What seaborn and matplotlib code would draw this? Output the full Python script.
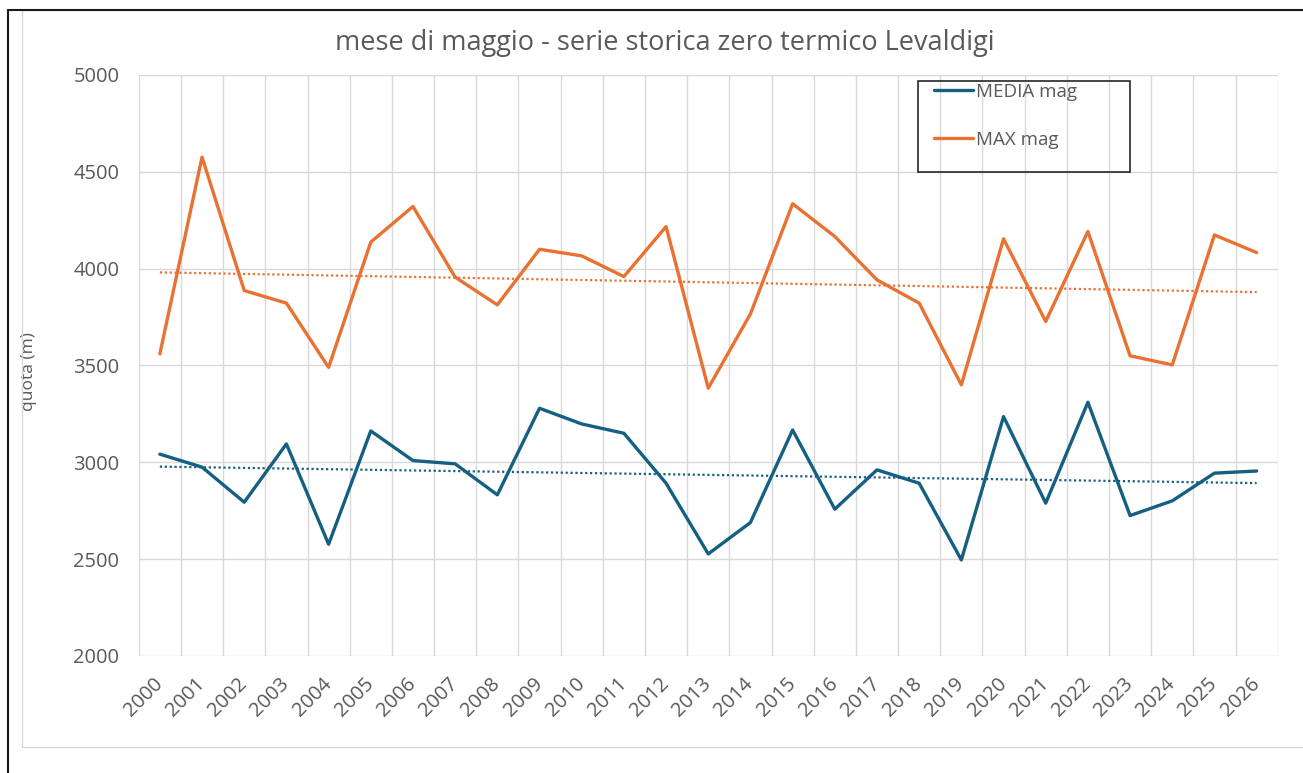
import matplotlib
matplotlib.use("Agg")
import matplotlib.pyplot as plt
import matplotlib.patches as patches
import numpy as np
import pandas as pd
import seaborn as sns

# data
anni = [str(a) for a in range(2000, 2027)]
media_mag = [3042, 2975, 2794, 3095, 2577, 3162, 3009, 2992, 2832, 3279,
             3198, 3150, 2892, 2527, 2689, 3167, 2758, 2961, 2892, 2496,
             3236, 2789, 3310, 2725, 2801, 2944, 2955]
max_mag = [3560, 4576, 3887, 3822, 3490, 4137, 4321, 3956, 3813, 4100,
           4066, 3959, 4217, 3383, 3766, 4335, 4166, 3942, 3822, 3400,
           4154, 3727, 4192, 3550, 3503, 4174, 4083]

blu = "#156082"
arancio = "#E97132"
grigio = "#595959"

sns.set_theme(style="white")
plt.rcParams["font.family"] = ["Open Sans", "DejaVu Sans"]

df = pd.DataFrame({
    "pos": np.arange(len(anni)),
    "MEDIA mag": media_mag,
    "MAX mag": max_mag,
})

W, H = 1303, 773
fig = plt.figure(figsize=(W / 100, H / 100), dpi=100)
ax = fig.add_axes([0.1065, 0.1514, 0.8741, 0.7516])

sns.lineplot(data=df, x="pos", y="MEDIA mag", color=blu, lw=2.4, ax=ax, label="MEDIA mag")
sns.lineplot(data=df, x="pos", y="MAX mag", color=arancio, lw=2.4, ax=ax, label="MAX mag")

# linear trend lines (dotted)
sns.regplot(data=df, x="pos", y="MEDIA mag", scatter=False, ci=None, ax=ax,
            line_kws=dict(color=blu, lw=1.6, ls=(0, (1, 1.2))))
sns.regplot(data=df, x="pos", y="MAX mag", scatter=False, ci=None, ax=ax,
            line_kws=dict(color=arancio, lw=1.6, ls=(0, (1, 1.2))))

ax.set_xlim(-0.5, len(anni) - 0.5)
ax.set_ylim(2000, 5000)
ax.set_yticks(range(2000, 5001, 500))
ax.set_xticks(df["pos"])
ax.set_xticklabels(anni, rotation=45, ha="right", va="center", rotation_mode="anchor")
ax.set_xticks(np.arange(-0.5, len(anni), 1), minor=True)

ax.grid(False)
ax.grid(axis="y", which="major", color="#D9D9D9", lw=1)
ax.grid(axis="x", which="minor", color="#D9D9D9", lw=1)
ax.set_axisbelow(True)
for s in ax.spines.values():
    s.set_visible(False)

ax.tick_params(axis="x", which="major", length=0, pad=18, labelsize=14.5, labelcolor=grigio)
ax.tick_params(axis="y", length=0, pad=14, labelsize=14.5, labelcolor=grigio)
ax.tick_params(axis="x", which="minor", length=0)

ax.set_xlabel("")
ax.set_ylabel("quota (m)", fontsize=12.5, color=grigio)
ax.yaxis.set_label_coords(-0.089, 0.49)

fig.text(0.51, 0.945, "mese di maggio - serie storica zero termico Levaldigi",
         ha="center", va="center", fontsize=19.5, color=grigio)

# legend without its own frame, box drawn separately like the Excel one
handles, labels = ax.get_legend_handles_labels()
leg = ax.legend(handles[:2], labels[:2], loc="upper left",
                bbox_to_anchor=((934 - 138.7) / 1139, (656 - 83) / 581),
                fontsize=13.5, frameon=False, labelspacing=1.58,
                handlelength=2.1, handletextpad=0.15, borderpad=0,
                borderaxespad=0)
for t in leg.get_texts():
    t.set_color(grigio)
fig.patches.append(patches.Rectangle((918 / W, 1 - 172 / H), (1130 - 918) / W, (172 - 81) / H,
                                     transform=fig.transFigure, fill=False,
                                     edgecolor="#262626", lw=1.2, zorder=5))

# chart frame
fig.patches.append(patches.Rectangle((22 / W, 1 - 747 / H), 1, (747 - 10) / H,
                                     transform=fig.transFigure, fill=False,
                                     edgecolor="#D9D9D9", lw=1))
fig.lines.append(plt.Line2D([8 / W, 1], [1 - 10 / H, 1 - 10 / H],
                            transform=fig.transFigure, color="#1a1a1a", lw=1.5))
fig.lines.append(plt.Line2D([8 / W, 8 / W], [0, 1 - 10 / H],
                            transform=fig.transFigure, color="#1a1a1a", lw=1.5))

fig.savefig("out.png", dpi=100)
